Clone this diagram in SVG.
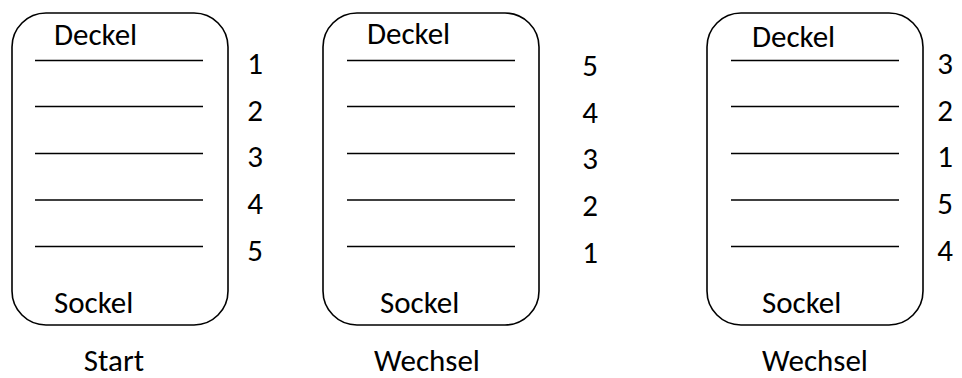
<svg xmlns="http://www.w3.org/2000/svg" width="962" height="378" viewBox="0 0 962 378">
<style>
.box{fill:#fff;stroke:#000;stroke-width:1.6}
.ln{stroke:#000;stroke-width:1.5}
text{font-family:Carlito,Lato,"Open Sans",sans-serif;font-size:31px;fill:#000}
.num{text-anchor:middle}
.mid{text-anchor:middle}
</style>
<rect width="962" height="378" fill="#fff"/>
<g id="stack1">
<rect class="box" x="12" y="13" width="216" height="312" rx="34"/>
<text x="54" y="45">Deckel</text>
<line class="ln" x1="35" y1="60.5" x2="203" y2="60.5"/>
<line class="ln" x1="35" y1="106.5" x2="203" y2="106.5"/>
<line class="ln" x1="35" y1="153.5" x2="203" y2="153.5"/>
<line class="ln" x1="35" y1="200" x2="203" y2="200"/>
<line class="ln" x1="35" y1="246.5" x2="203" y2="246.5"/>
<text x="54" y="313">Sockel</text>
<text class="num" x="255" y="74">1</text>
<text class="num" x="255" y="121">2</text>
<text class="num" x="255" y="167">3</text>
<text class="num" x="255" y="214">4</text>
<text class="num" x="255" y="261">5</text>
<text class="mid" x="114" y="371">Start</text>
</g>
<g id="stack2">
<rect class="box" x="323" y="13" width="216" height="312" rx="34"/>
<text x="367" y="44">Deckel</text>
<line class="ln" x1="347" y1="60.5" x2="515" y2="60.5"/>
<line class="ln" x1="347" y1="106.5" x2="515" y2="106.5"/>
<line class="ln" x1="347" y1="153.5" x2="515" y2="153.5"/>
<line class="ln" x1="347" y1="200" x2="515" y2="200"/>
<line class="ln" x1="347" y1="246.5" x2="515" y2="246.5"/>
<text x="380" y="313">Sockel</text>
<text class="num" x="590" y="76">5</text>
<text class="num" x="590" y="123">4</text>
<text class="num" x="590" y="169">3</text>
<text class="num" x="590" y="216">2</text>
<text class="num" x="590" y="263">1</text>
<text class="mid" x="427" y="371">Wechsel</text>
</g>
<g id="stack3">
<rect class="box" x="707" y="13" width="216" height="312" rx="34"/>
<text x="752" y="47">Deckel</text>
<line class="ln" x1="731" y1="60.5" x2="899" y2="60.5"/>
<line class="ln" x1="731" y1="106.5" x2="899" y2="106.5"/>
<line class="ln" x1="731" y1="153.5" x2="899" y2="153.5"/>
<line class="ln" x1="731" y1="200" x2="899" y2="200"/>
<line class="ln" x1="731" y1="246.5" x2="899" y2="246.5"/>
<text x="762" y="313">Sockel</text>
<text class="num" x="945" y="74">3</text>
<text class="num" x="945" y="121">2</text>
<text class="num" x="945" y="167">1</text>
<text class="num" x="945" y="214">5</text>
<text class="num" x="945" y="261">4</text>
<text class="mid" x="815" y="371">Wechsel</text>
</g>
<g id="connectors"></g>
</svg>
